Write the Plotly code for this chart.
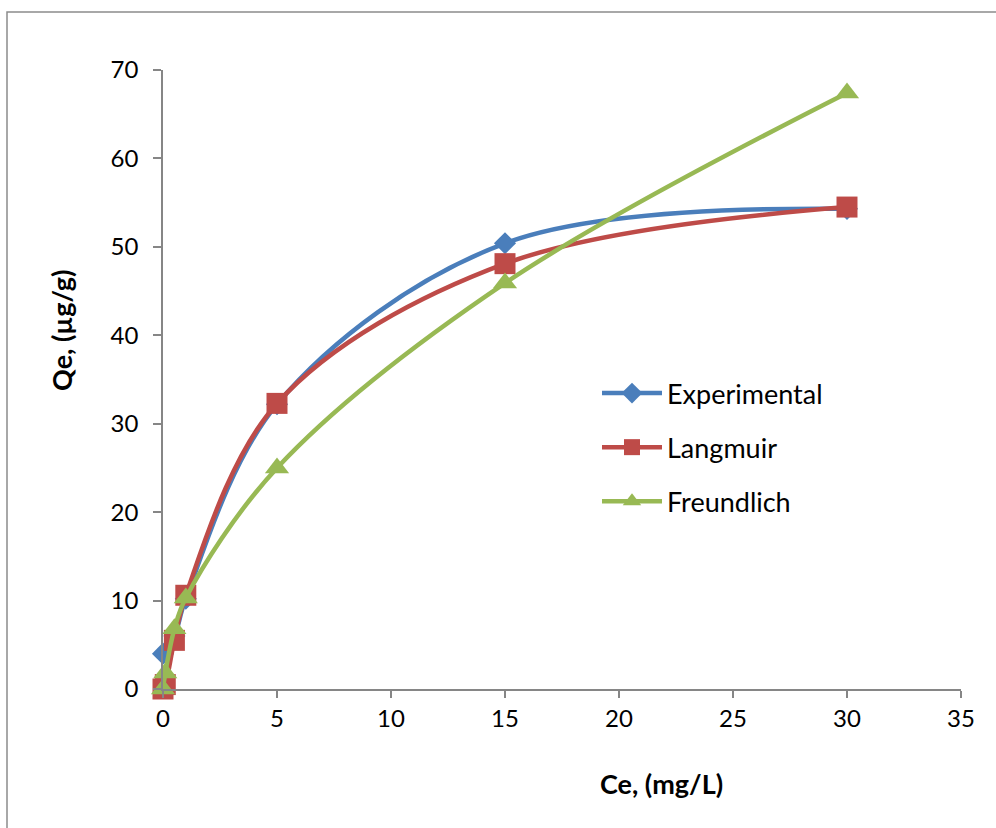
import plotly.graph_objects as go

exp_x = [0, 0.5, 1, 5, 15, 30]
exp_y = [4.0, 6.0, 10.2, 32.2, 50.4, 54.3]
lang_x = [0, 0.1, 0.5, 1, 5, 15, 30]
lang_y = [0, 0.5, 5.5, 10.6, 32.3, 48.1, 54.5]
freu_x = [0, 0.1, 0.5, 1, 5, 15, 30]
freu_y = [0, 1.8, 6.8, 10.3, 25.0, 45.9, 67.4]

x_ticks = [0, 5, 10, 15, 20, 25, 30, 35]
y_ticks = [0, 10, 20, 30, 40, 50, 60, 70]

FONT = "Lato"
fig = go.Figure()
fig.add_trace(go.Scatter(x=exp_x, y=exp_y, name="Experimental", mode="lines+markers",
                         line=dict(color="#4A7EBB", width=4.5, shape="spline", smoothing=1.0),
                         marker=dict(symbol="diamond", size=17, color="#4A7EBB"),
                         legendgroup="a", cliponaxis=False))
fig.add_trace(go.Scatter(x=lang_x, y=lang_y, name="Langmuir", mode="lines+markers",
                         line=dict(color="#BE4B48", width=4.5, shape="spline", smoothing=1.0),
                         marker=dict(symbol="square", size=21, color="#BE4B48"),
                         legendgroup="b", cliponaxis=False))
fig.add_trace(go.Scatter(x=freu_x, y=freu_y, name="Freundlich", mode="lines+markers",
                         line=dict(color="#98B954", width=4.5, shape="spline", smoothing=1.0),
                         marker=dict(symbol="triangle-up", size=21, color="#98B954"),
                         legendgroup="c", cliponaxis=False))

W, H = 996, 828
L, R, T, B = 163, 35, 70, 139
pw, ph = W - L - R, H - T - B

fig.update_layout(
    width=W, height=H,
    margin=dict(l=L, r=R, t=T, b=B),
    paper_bgcolor="white", plot_bgcolor="white",
    font=dict(family=FONT, size=24, color="#000000"),
    showlegend=True,
    legend=dict(x=(597 - L) / pw, y=(689 - 369) / ph, xanchor="left", yanchor="top",
                traceorder="grouped", tracegroupgap=16, itemwidth=60,
                font=dict(family=FONT, size=27), bgcolor="rgba(0,0,0,0)"),
    xaxis=dict(range=[0, 35], tickvals=x_ticks, showgrid=False, zeroline=False,
               showline=True, linecolor="#868686", linewidth=1.5,
               ticks="outside", ticklen=7, tickcolor="#868686", tickwidth=1.5),
    yaxis=dict(range=[0, 70], tickvals=y_ticks, showgrid=False, zeroline=False,
               showline=True, linecolor="#868686", linewidth=1.5,
               ticks="outside", ticklen=8, tickcolor="#868686", tickwidth=1.5,
               ticklabelstandoff=10),
)

fig.add_annotation(text="<b>Ce, (mg/L)</b>", xref="paper", yref="paper",
                   x=(661 - L) / pw, y=(689 - 783) / ph, showarrow=False,
                   font=dict(family=FONT, size=27), xanchor="center", yanchor="middle")
fig.add_annotation(text="<b>Qe, (µg/g)</b>", xref="paper", yref="paper",
                   x=(62 - L) / pw, y=(689 - 330) / ph, showarrow=False, textangle=-90,
                   font=dict(family=FONT, size=27), xanchor="center", yanchor="middle")

fig.add_shape(type="rect", xref="paper", yref="paper",
              x0=(7 - L) / pw, x1=1.2, y0=-0.4, y1=(689 - 12) / ph,
              line=dict(color="#8C8C8C", width=1.5), layer="below")

fig.write_html("out.html")
